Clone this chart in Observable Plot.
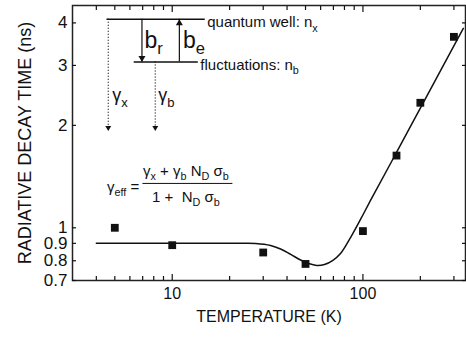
<!DOCTYPE html>
<html>
<head>
<meta charset="utf-8">
<script src="https://cdn.jsdelivr.net/npm/d3@7"></script>
<script src="https://cdn.jsdelivr.net/npm/@observablehq/plot@0.6"></script>
<style>
  html, body { margin: 0; padding: 0; background: #fff; }
  #chart { width: 466px; height: 337px; }
</style>
</head>
<body>
<div id="chart"></div>
<script>
// ---- data ----
const pointT   = [5, 10, 30, 50, 100, 150, 200, 300];
const pointTau = [1.0, 0.889, 0.846, 0.783, 0.978, 1.63, 2.33, 3.64];

const fitT   = [4, 10, 20, 22.9, 27.4, 32.8, 37.0, 41.8, 47.1, 51.9, 57.2, 62.9, 69.3, 76.3, 86.1, 97.1, 109.6, 150, 226, 336];
const fitTau = [0.9, 0.9, 0.9, 0.9, 0.899, 0.887, 0.866, 0.835, 0.804, 0.785, 0.775, 0.780, 0.801, 0.840, 0.936, 1.058, 1.203, 1.665, 2.551, 3.855];

const xTicksMajor = [10, 100];
const xTicksMinor = [4, 5, 6, 7, 8, 9, 20, 30, 40, 50, 60, 70, 80, 90, 200, 300];
const yTicks = [0.7, 0.8, 0.9, 1, 2, 3, 4];

const xLabel = "TEMPERATURE (K)";
const yLabel = "RADIATIVE DECAY TIME (ns)";

// level-scheme annotation (in data units)
const levelNames = ["quantum well: n_x", "fluctuations: n_b"];
const levelX1 = [4.55, 6.32];
const levelX2 = [14.9, 13.7];
const levelY  = [4.10, 3.07];

const solidArrowNames = ["b_r", "b_e"];
const solidArrowX  = [6.94, 10.9];
const solidArrowY1 = [4.10, 3.07];
const solidArrowY2 = [3.07, 4.10];
const solidLabelX  = [7.16, 11.4];
const solidLabelY  = [3.56, 3.56];

const dottedArrowNames = ["γ_x", "γ_b"];
const dottedArrowX  = [4.62, 8.15];
const dottedArrowY1 = [4.10, 3.07];
const dottedArrowY2 = [1.93, 1.93];
const dottedLabelX  = [4.85, 8.45];
const dottedLabelY  = [2.45, 2.45];

const formulaLhs = "γ_eff =";
const formulaNum = "γ_x + γ_b N_D σ_b";
const formulaDen = "1 +  N_D σ_b";
const formulaLhsX = 6.72, formulaLhsY = 1.32;
const formulaCenterX = 11.8, formulaNumY = 1.47, formulaDenY = 1.234;
const fracX1 = 7.02, fracX2 = 20.8, fracY = 1.35;

// ---- tables ----
const points = pointT.map((t, i) => ({t, tau: pointTau[i]}));
const fit = fitT.map((t, i) => ({t, tau: fitTau[i]}));
const levels = levelNames.map((name, i) => ({name, x1: levelX1[i], x2: levelX2[i], y: levelY[i]}));
const solid = solidArrowNames.map((name, i) => ({name, x: solidArrowX[i], y1: solidArrowY1[i], y2: solidArrowY2[i], lx: solidLabelX[i], ly: solidLabelY[i], down: solidArrowY2[i] < solidArrowY1[i]}));
const dotted = dottedArrowNames.map((name, i) => ({name, x: dottedArrowX[i], y1: dottedArrowY1[i], y2: dottedArrowY2[i], lx: dottedLabelX[i], ly: dottedLabelY[i]}));

const ink = "#111";
const font = "'Liberation Sans', Arial, sans-serif";

const plot = Plot.plot({
  width: 466,
  height: 337,
  marginLeft: 72,
  marginRight: 1,
  marginTop: 5,
  marginBottom: 57,
  style: {fontFamily: font, background: "#fff", color: ink},
  x: {type: "log", domain: [3, 345]},
  y: {type: "log", domain: [0.7, 4.5]},
  marks: [
    Plot.frame({stroke: "#222", strokeWidth: 1.5}),
    // x ticks inward, bottom and top
    Plot.axisX({anchor: "bottom", ticks: xTicksMajor, tickSize: -6, fill: "none", label: null, strokeWidth: 1.2}),
    Plot.axisX({anchor: "bottom", ticks: xTicksMinor, tickSize: -4, fill: "none", label: null, strokeWidth: 1.2}),
    Plot.axisX({anchor: "top", ticks: xTicksMajor, tickSize: -6, fill: "none", label: null, strokeWidth: 1.2}),
    Plot.axisX({anchor: "top", ticks: xTicksMinor, tickSize: -4, fill: "none", label: null, strokeWidth: 1.2}),
    Plot.axisX({anchor: "bottom", ticks: xTicksMajor, tickSize: 0, tickPadding: 7, tickFormat: d => String(d), fontSize: 16, label: null}),
    // y ticks inward, left and right
    Plot.axisY({anchor: "left", ticks: yTicks, tickSize: -4, fill: "none", label: null, strokeWidth: 1.2}),
    Plot.axisY({anchor: "right", ticks: yTicks, tickSize: -4, fill: "none", label: null, strokeWidth: 1.2}),
    Plot.axisY({anchor: "left", ticks: yTicks, tickSize: 0, tickPadding: 5, tickFormat: d => String(d), fontSize: 17, label: null}),
    // axis titles
    Plot.text([xLabel], {text: d => d, frameAnchor: "bottom", textAnchor: "middle", dy: 41, fontSize: 16, fill: ink}),
    Plot.text([yLabel], {text: d => d, frameAnchor: "left", textAnchor: "middle", dx: -47, rotate: -90, fontSize: 18, fill: ink}),

    // fit curve and data points
    Plot.line(fit, {x: "t", y: "tau", stroke: ink, strokeWidth: 1.5, curve: "catmull-rom"}),
    Plot.dot(points, {x: "t", y: "tau", symbol: "square", r: 4.4, fill: ink, stroke: "none"}),

    // level scheme
    Plot.ruleY(levels, {y: "y", x1: "x1", x2: "x2", stroke: ink, strokeWidth: 1.5}),
    Plot.text(levels, {x: "x2", y: "y", text: "name", textAnchor: "start", dx: 2, dy: 3, fontSize: 15, fill: ink}),
    Plot.ruleX(solid, {x: "x", y1: "y1", y2: "y2", stroke: ink, strokeWidth: 1.2}),
    Plot.dot(solid.filter(d => d.down), {x: "x", y: "y2", symbol: "triangle", r: 2.6, fill: ink, stroke: "none", rotate: 180, dy: -4}),
    Plot.dot(solid.filter(d => !d.down), {x: "x", y: "y2", symbol: "triangle", r: 2.6, fill: ink, stroke: "none", dy: 4}),
    Plot.text(solid, {x: "lx", y: "ly", text: "name", textAnchor: "start", fontSize: 23, fill: ink}),
    Plot.ruleX(dotted, {x: "x", y1: "y1", y2: "y2", stroke: ink, strokeWidth: 1.2, strokeDasharray: "1,2"}),
    Plot.dot(dotted, {x: "x", y: "y2", symbol: "triangle", r: 2.2, fill: ink, stroke: "none", rotate: 180, dy: -3}),
    Plot.text(dotted, {x: "lx", y: "ly", text: "name", textAnchor: "start", fontSize: 18, fill: ink}),

    // formula
    Plot.ruleY([fracY], {y: d => d, x1: fracX1, x2: fracX2, stroke: ink, strokeWidth: 1}),
    Plot.text([formulaLhs], {text: d => d, x: formulaLhsX, y: formulaLhsY, textAnchor: "end", fontSize: 15, fill: ink}),
    Plot.text([formulaNum], {text: d => d, x: formulaCenterX, y: formulaNumY, fontSize: 15, fill: ink}),
    Plot.text([formulaDen], {text: d => d, x: formulaCenterX, y: formulaDenY, fontSize: 15, fill: ink})
  ]
});

document.getElementById("chart").appendChild(plot);

// render "_xyz" as subscripts
const ns = "http://www.w3.org/2000/svg";
plot.querySelectorAll("text").forEach(t => {
  const s = t.textContent;
  if (!s.includes("_")) return;
  const fs = parseFloat(getComputedStyle(t).fontSize) || 14;
  while (t.firstChild) t.removeChild(t.firstChild);
  const parts = s.split(/(_[^\s_+=]+)/);
  let shifted = false;
  parts.forEach(p => {
    if (!p) return;
    const ts = document.createElementNS(ns, "tspan");
    if (p[0] === "_") {
      ts.textContent = p.slice(1);
      ts.setAttribute("font-size", (fs * 0.72).toFixed(1));
      ts.setAttribute("dy", (fs * 0.3).toFixed(1));
      shifted = true;
    } else {
      ts.textContent = p;
      if (shifted) { ts.setAttribute("dy", (-fs * 0.3).toFixed(1)); shifted = false; }
    }
    t.appendChild(ts);
  });
});
</script>
</body>
</html>
